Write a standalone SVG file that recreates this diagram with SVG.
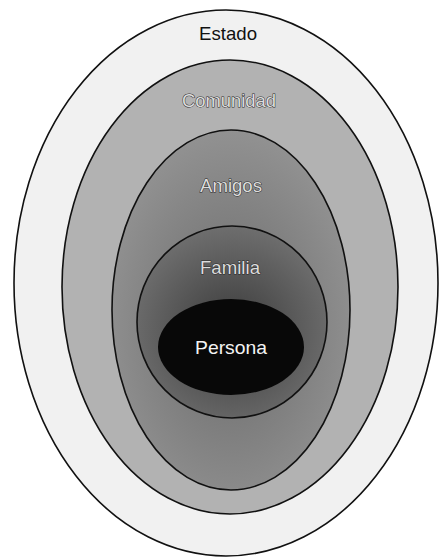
<svg xmlns="http://www.w3.org/2000/svg" width="440" height="559" viewBox="0 0 440 559">
<style>
.ring{stroke:#111;stroke-width:1.6}
.lbl{font-family:"Liberation Sans","DejaVu Sans",sans-serif;font-size:19px;text-anchor:middle}
.outl{fill:#dcdcdc;stroke:#2a2a2a;stroke-width:1;paint-order:stroke}
</style>
<defs>
<radialGradient id="gFam" cx="0.5" cy="0.55" r="0.55">
<stop offset="0" stop-color="#3a3a3a"/>
<stop offset="1" stop-color="#6e6e6e"/>
</radialGradient>
<radialGradient id="gAm" cx="0.5" cy="0.55" r="0.6">
<stop offset="0" stop-color="#6a6a6a"/>
<stop offset="1" stop-color="#959595"/>
</radialGradient>
</defs>
<rect width="440" height="559" fill="#fff"/>
<g id="estado">
<ellipse class="ring" cx="226" cy="283" rx="212" ry="273" fill="#f1f1f1"/>
<text class="lbl" x="228" y="40" fill="#111" textLength="58" lengthAdjust="spacingAndGlyphs">Estado</text>
</g>
<g id="comunidad">
<ellipse class="ring" cx="230" cy="287" rx="168" ry="227" fill="#b2b2b2"/>
<text class="lbl outl" x="229" y="107" textLength="94" lengthAdjust="spacingAndGlyphs">Comunidad</text>
</g>
<g id="amigos">
<ellipse class="ring" cx="231" cy="310" rx="119" ry="180" fill="url(#gAm)"/>
<text class="lbl outl" x="231" y="192" textLength="62" lengthAdjust="spacingAndGlyphs">Amigos</text>
</g>
<g id="familia">
<ellipse class="ring" cx="232" cy="322" rx="95" ry="96" fill="url(#gFam)"/>
<text class="lbl outl" x="230" y="274" textLength="60" lengthAdjust="spacingAndGlyphs">Familia</text>
</g>
<g id="persona">
<ellipse cx="231" cy="347" rx="73" ry="48" fill="#080808"/>
<text class="lbl" x="231" y="354" fill="#f4f4f4" textLength="72" lengthAdjust="spacingAndGlyphs">Persona</text>
</g>
<g id="connectors"/>
</svg>
